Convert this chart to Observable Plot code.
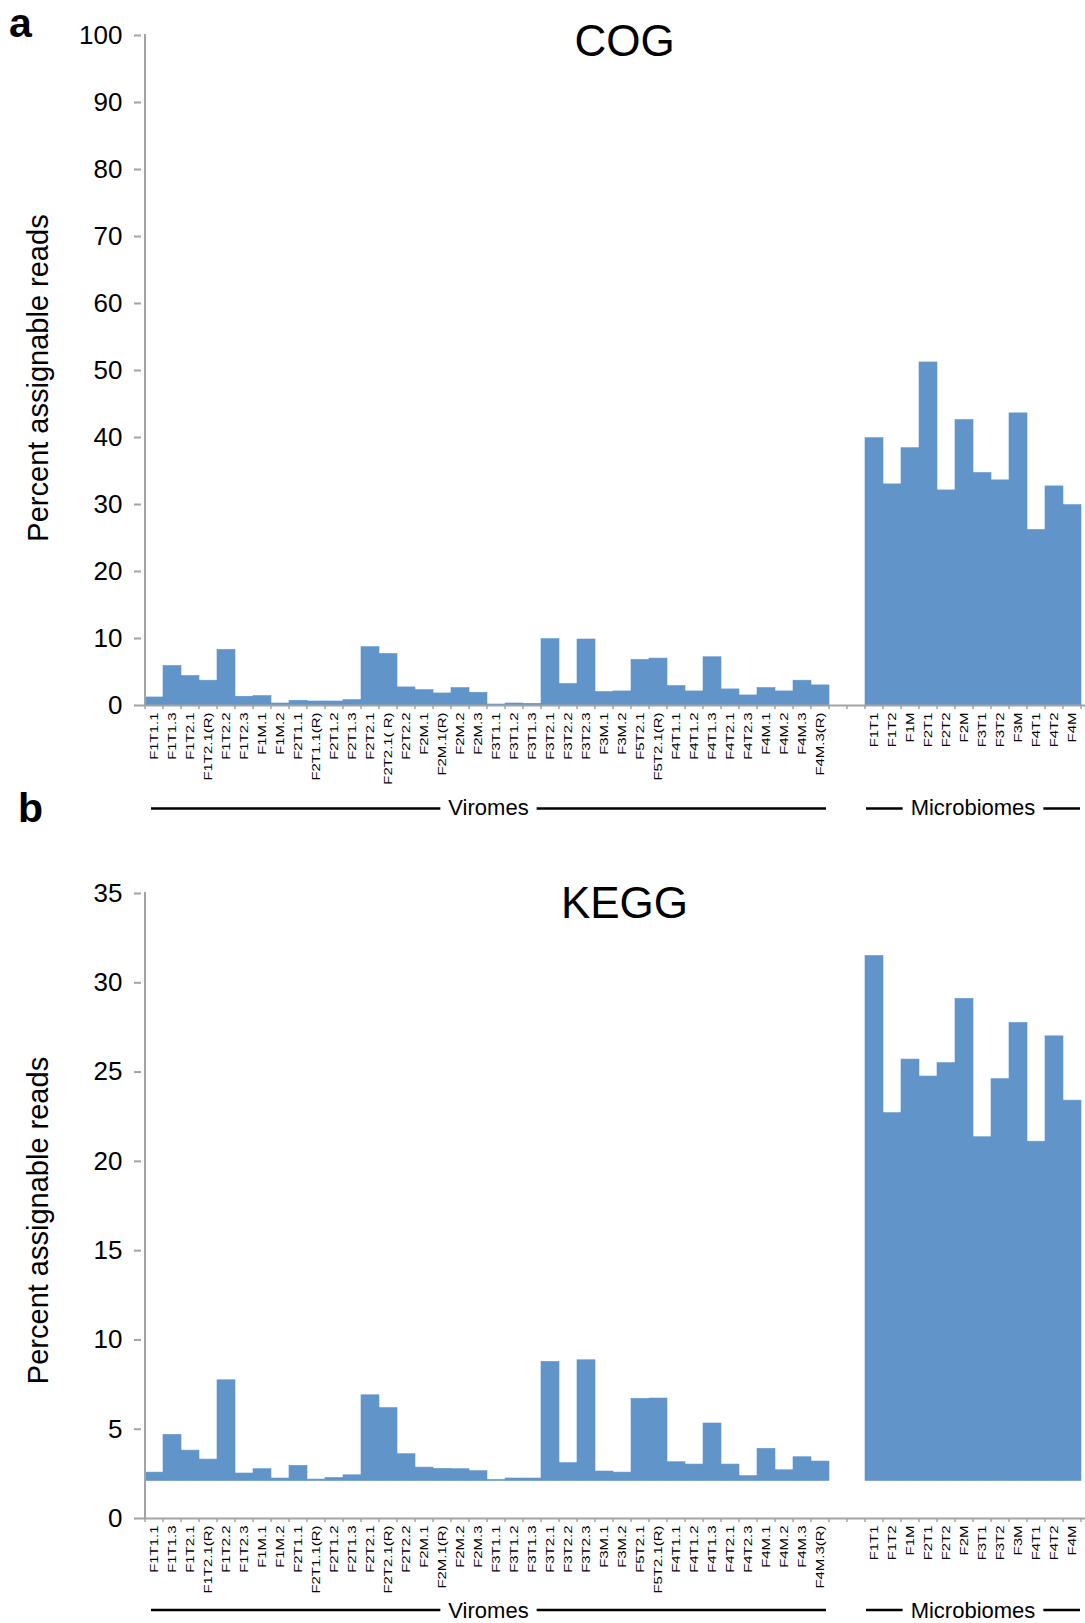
<!DOCTYPE html>
<html>
<head>
<meta charset="utf-8">
<script src="https://cdn.jsdelivr.net/npm/d3@7"></script>
<script src="https://cdn.jsdelivr.net/npm/@observablehq/plot@0.6"></script>
<style>
  html, body { margin: 0; padding: 0; background: #fff; }
  #fig { position: relative; width: 1085px; height: 1623px; overflow: hidden;
         font-family: "Liberation Sans", Arial, sans-serif; }
  #fig svg { display: block; }
  .panel-letter { position: absolute; font-weight: bold; font-size: 41px; line-height: 1; color: #000; }
</style>
</head>
<body>
<div id="fig">
  <div class="panel-letter" style="left:9px; top:3px;">a</div>
  <div class="panel-letter" style="left:18px; top:788px;">b</div>
</div>
<script>
// Sample names (x categories)
const viromeSamples = [
  "F1T1.1","F1T1.3","F1T2.1","F1T2.1(R)","F1T2.2","F1T2.3","F1M.1","F1M.2",
  "F2T1.1","F2T1.1(R)","F2T1.2","F2T1.3","F2T2.1","F2T2.1(R)","F2T2.2",
  "F2M.1","F2M.1(R)","F2M.2","F2M.3","F3T1.1","F3T1.2","F3T1.3",
  "F3T2.1","F3T2.2","F3T2.3","F3M.1","F3M.2","F5T2.1","F5T2.1(R)",
  "F4T1.1","F4T1.2","F4T1.3","F4T2.1","F4T2.3","F4M.1","F4M.2","F4M.3","F4M.3(R)"
];
const microbiomeSamples = ["F1T1","F1T2","F1M","F2T1","F2T2","F2M","F3T1","F3T2","F3M","F4T1","F4T2","F4M"];
const gapSlots = ["gap-1", "gap-2"];           // empty category slots between the two groups
const cogLabelOverrides = { "F2T2.1(R)": "F2T2.1( R)" };

// Panel a: COG, percent assignable reads
const cogVirome = [1.2,5.9,4.4,3.7,8.3,1.3,1.4,0.3,0.7,0.6,0.6,0.8,8.7,7.7,2.7,
  2.3,1.8,2.6,1.9,0.15,0.3,0.25,9.9,3.2,9.85,2.0,2.1,6.8,7.0,
  2.9,2.1,7.2,2.4,1.5,2.6,2.1,3.7,3.0];
const cogMicrobiome = [39.9,33.0,38.4,51.2,32.1,42.6,34.7,33.6,43.6,26.2,32.7,29.9];
const cogFloor = 0;
const cogTicks = [0,10,20,30,40,50,60,70,80,90,100];

// Panel b: KEGG, percent assignable reads
const keggVirome = [2.57,4.68,3.8,3.3,7.74,2.52,2.76,2.24,2.95,2.18,2.27,2.42,6.9,6.18,3.6,
  2.85,2.78,2.76,2.65,2.16,2.24,2.24,8.77,3.1,8.86,2.63,2.57,6.7,6.72,
  3.15,3.02,5.32,3.02,2.37,3.9,2.7,3.43,3.19];
const keggMicrobiome = [31.5,22.7,25.7,24.75,25.5,29.1,21.35,24.6,27.75,21.1,27.0,23.4];
const keggFloor = 2.1;
const keggTicks = [0,5,10,15,20,25,30,35];

const FONT = "Liberation Sans, Arial, sans-serif";
const BAR = "#6195c9";
const AXIS = "#a3a3a3";

function makePanel(cfg) {
  const domain = [...viromeSamples, ...gapSlots, ...microbiomeSamples];
  const rows = [
    ...viromeSamples.map((s, i) => ({sample: s, value: cfg.virome[i], floor: cfg.floor})),
    ...microbiomeSamples.map((s, i) => ({sample: s, value: cfg.microbiome[i], floor: cfg.floor}))
  ];
  const fmt = d => gapSlots.includes(d) ? "" : (cfg.labels[d] ?? d);

  const plot = Plot.plot({
    width: 1085,
    height: cfg.height,
    marginLeft: 141,
    marginRight: 0,
    marginTop: cfg.marginTop,
    marginBottom: cfg.marginBottom,
    style: {fontFamily: FONT, background: "white", color: "black", overflow: "visible"},
    x: {type: "band", domain, padding: 0},
    y: {domain: [0, cfg.yMax]},
    marks: [
      Plot.barY(rows, {x: "sample", y1: "floor", y2: "value", fill: BAR, stroke: BAR, strokeWidth: 0.6}),
      Plot.ruleY([0], {stroke: AXIS, strokeWidth: 2}),
      Plot.axisY({ticks: cfg.ticks, tickSize: 7, tickPadding: 12, fontSize: 26,
        stroke: AXIS, strokeWidth: 2, fill: "black", label: null}),
      Plot.axisX({tickRotate: -90, tickSize: 0, tickPadding: 7, fontSize: 11.5,
        tickFormat: fmt, fill: "black", label: null}),
      Plot.text([cfg.title], {text: d => d, frameAnchor: "top", lineAnchor: "middle",
        dx: 11, dy: cfg.titleDy, fontSize: 44, fill: "black"}),
      Plot.text(["Percent assignable reads"], {text: d => d, frameAnchor: "left", rotate: -90,
        textAnchor: "middle", lineAnchor: "middle", dx: -103, dy: cfg.yLabelDy, fontSize: 29, fill: "black"})
    ]
  });
  document.getElementById("fig").appendChild(plot);

  const x = plot.scale("x"), y = plot.scale("y");
  const bw = x.bandwidth;
  const left = x.apply(domain[0]);
  const right = x.apply(domain[domain.length - 1]) + bw;
  const yTop = y.apply(cfg.yMax), yZero = y.apply(0);
  const svg = d3.select(plot);

  // stretch the rotated sample labels along their reading direction
  svg.selectAll('[aria-label="x-axis tick label"] text').attr("transform", function () {
    return (this.getAttribute("transform") || "") + " scale(1.3,1)";
  });

  const g = svg.append("g");
  // vertical axis line
  g.append("line").attr("x1", left).attr("x2", left).attr("y1", yTop - 1).attr("y2", yZero + 1)
    .attr("stroke", AXIS).attr("stroke-width", 2);
  // category boundary ticks
  const edges = domain.map(d => x.apply(d)).concat([right]);
  g.selectAll(".edge").data(edges).join("line").attr("class", "edge")
    .attr("x1", d => d).attr("x2", d => d).attr("y1", yZero).attr("y2", yZero + 4)
    .attr("stroke", AXIS).attr("stroke-width", 1.5);

  // group annotations below the sample labels
  const groups = [
    {label: "Viromes", first: viromeSamples[0], last: viromeSamples[viromeSamples.length - 1], padL: 6, padR: 3},
    {label: "Microbiomes", first: microbiomeSamples[0], last: microbiomeSamples[microbiomeSamples.length - 1], padL: 1, padR: 1}
  ];
  for (const grp of groups) {
    const x0 = x.apply(grp.first) + grp.padL;
    const x1 = x.apply(grp.last) + bw - grp.padR;
    const cx = (x0 + x1) / 2;
    const t = g.append("text").attr("x", cx).attr("y", cfg.groupTextY)
      .attr("text-anchor", "middle").attr("dominant-baseline", "central")
      .attr("font-family", FONT).attr("font-size", 22).attr("fill", "black").text(grp.label);
    const w = t.node().getComputedTextLength();
    const gap = 8;
    g.append("line").attr("x1", x0).attr("x2", cx - w / 2 - gap)
      .attr("y1", cfg.groupLineY).attr("y2", cfg.groupLineY).attr("stroke", "black").attr("stroke-width", 2.5);
    g.append("line").attr("x1", cx + w / 2 + gap).attr("x2", x1)
      .attr("y1", cfg.groupLineY).attr("y2", cfg.groupLineY).attr("stroke", "black").attr("stroke-width", 2.5);
  }
  return plot;
}

makePanel({
  title: "COG", virome: cogVirome, microbiome: cogMicrobiome, floor: cogFloor,
  yMax: 100, ticks: cogTicks, labels: cogLabelOverrides,
  height: 830, marginTop: 35, marginBottom: 125,
  titleDy: 6, yLabelDy: 7.5, groupTextY: 807, groupLineY: 808.5
});

makePanel({
  title: "KEGG", virome: keggVirome, microbiome: keggMicrobiome, floor: keggFloor,
  yMax: 35, ticks: keggTicks, labels: {},
  height: 793, marginTop: 63, marginBottom: 105,
  titleDy: 10, yLabelDy: 14.5, groupTextY: 780, groupLineY: 780
});
</script>
</body>
</html>
